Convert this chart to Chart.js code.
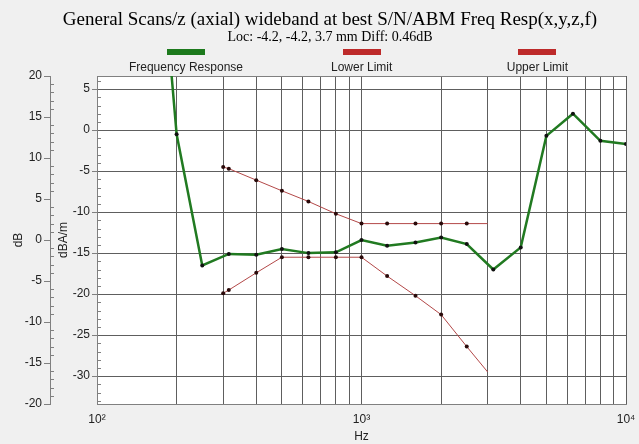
<!DOCTYPE html>
<html>
<head>
<meta charset="utf-8">
<title>Freq Resp</title>
<script src="https://cdn.jsdelivr.net/npm/chart.js@4.4.1/dist/chart.umd.min.js"></script>
<style>
  html, body { margin: 0; padding: 0; background: #f0f0f0; }
  canvas { display: block; }
</style>
</head>
<body>
<canvas id="freqChart" width="639" height="444"></canvas>
<script>
// measured response, 1/3-octave bands (Hz / dBA/m)
const respFreq  = [160, 200, 250, 315, 400, 500, 630, 800, 1000, 1250, 1600, 2000, 2500, 3150, 4000, 5000, 6300, 8000, 10000];
const respLevel = [36, -0.5, -16.5, -15.1, -15.2, -14.5, -15.0, -14.9, -13.4, -14.1, -13.7, -13.1, -13.9, -17.0, -14.3, -0.7, 2.0, -1.3, -1.7];

// limit mask (dBA/m)
const limitFreq  = [300, 315, 400, 500, 630, 800, 1000, 1250, 1600, 2000, 2500, 3000];
const lowerLevel = [-19.9, -19.5, -17.4, -15.5, -15.5, -15.5, -15.5, -17.8, -20.2, -22.5, -26.4, -29.5];
const upperLevel = [-4.5, -4.7, -6.1, -7.4, -8.7, -10.2, -11.4, -11.4, -11.4, -11.4, -11.4, -11.4];

// axes
const hzTicks  = [100, 200, 300, 400, 500, 600, 700, 800, 900, 1000, 2000, 3000, 4000, 5000, 6000, 7000, 8000, 9000, 10000];
const hzLabels = { 100: '10²', 1000: '10³', 10000: '10⁴' };
const dbaTicks = [5, 0, -5, -10, -15, -20, -25, -30];
const dbTicks  = [20, 15, 10, 5, 0, -5, -10, -15, -20];
const dbRange  = [-20, 20];
const dbaRange = [-33.4, 6.6];

const chartTitle = 'General Scans/z (axial) wideband at best S/N/ABM Freq Resp(x,y,z,f)';
const chartSubtitle = 'Loc: -4.2, -4.2, 3.7 mm Diff: 0.46dB';
const seriesNames = ['Frequency Response', 'Lower Limit', 'Upper Limit'];
const legendColors = ['#1d7a1d', '#bd2a2a', '#bd2a2a'];

Chart.defaults.font.family = '"Liberation Sans", Arial, sans-serif';
Chart.defaults.font.size = 12;
Chart.defaults.color = '#222';

const SERIF = '"Liberation Serif", "Times New Roman", serif';
const toXY = (xs, ys) => xs.map((x, i) => ({ x: x, y: ys[i] }));
const limitRadius = ctx => ctx.dataIndex === limitFreq.length - 1 ? 0 : 2;

// white plot area, frame, minor ticks, titles and the legend row
const framePlugin = {
  id: 'frame',
  beforeDraw(chart) {
    const { ctx, chartArea: a } = chart;
    ctx.save();
    ctx.fillStyle = '#f0f0f0';
    ctx.fillRect(0, 0, chart.width, chart.height);
    ctx.fillStyle = '#ffffff';
    ctx.fillRect(a.left, a.top, a.right - a.left, a.bottom - a.top);
    ctx.restore();
  },
  beforeDatasetsDraw(chart) {
    const { ctx, chartArea: a, scales } = chart;
    ctx.save();
    ctx.strokeStyle = '#808080';
    ctx.lineWidth = 1;
    ctx.beginPath();
    ctx.moveTo(a.left, Math.round(a.top) + 0.5);
    ctx.lineTo(a.right, Math.round(a.top) + 0.5);
    const minor = (scale, x0) => {
      for (let v = Math.ceil(scale.min); v <= Math.floor(scale.max); v++) {
        if (v % 5 === 0) continue;
        const y = Math.round(scale.getPixelForValue(v)) + 0.5;
        ctx.moveTo(x0, y);
        ctx.lineTo(x0 + 4, y);
      }
    };
    minor(scales.y2, Math.round(scales.y2.right));
    minor(scales.y, Math.round(a.left));
    ctx.stroke();
    ctx.restore();
  },
  afterDraw(chart) {
    const { ctx } = chart;
    ctx.save();
    ctx.textAlign = 'center';
    ctx.textBaseline = 'alphabetic';
    ctx.fillStyle = '#000';
    ctx.font = '19px ' + SERIF;
    ctx.fillText(chartTitle, 330, 25);
    ctx.font = '14px ' + SERIF;
    ctx.fillText(chartSubtitle, 330, 41);

    const centers = [0.291, 0.566, 0.841];
    ctx.font = '12px "Liberation Sans", Arial, sans-serif';
    centers.forEach((c, i) => {
      const x = chart.width * c;
      ctx.fillStyle = legendColors[i];
      ctx.fillRect(Math.round(x - 19), 49, 38, 6);
      ctx.fillStyle = '#222';
      ctx.fillText(seriesNames[i], x, 71);
    });
    ctx.restore();
  }
};

new Chart(document.getElementById('freqChart'), {
  type: 'line',
  data: {
    datasets: [{
      label: seriesNames[0],
      data: toXY(respFreq, respLevel),
      borderColor: '#217a21',
      borderWidth: 2.5,
      pointRadius: 2,
      pointBackgroundColor: '#111',
      pointBorderWidth: 0,
      tension: 0
    }, {
      label: seriesNames[1],
      data: toXY(limitFreq, lowerLevel),
      borderColor: '#b34848',
      borderWidth: 1,
      pointRadius: limitRadius,
      pointBackgroundColor: '#2a0a0a',
      pointBorderWidth: 0,
      tension: 0
    }, {
      label: seriesNames[2],
      data: toXY(limitFreq, upperLevel),
      borderColor: '#b34848',
      borderWidth: 1,
      pointRadius: limitRadius,
      pointBackgroundColor: '#2a0a0a',
      pointBorderWidth: 0,
      tension: 0
    }]
  },
  options: {
    responsive: false,
    animation: false,
    layout: { padding: { top: 76 } },
    plugins: {
      legend: { display: false },
      tooltip: { enabled: false }
    },
    scales: {
      x: {
        type: 'logarithmic',
        min: 100,
        max: 10000,
        afterBuildTicks: s => { s.ticks = hzTicks.map(v => ({ value: v })); },
        afterFit: s => { s.height = 40; s.paddingRight = 13; },
        ticks: { autoSkip: false, maxRotation: 0, padding: 8, callback: v => hzLabels[v] || '' },
        grid: { color: '#5e5e5e', drawTicks: false },
        border: { color: '#808080' },
        title: { display: true, text: 'Hz', padding: 0 }
      },
      y: {
        type: 'linear',
        position: 'left',
        weight: 0,
        min: dbaRange[0],
        max: dbaRange[1],
        afterBuildTicks: s => { s.ticks = dbaTicks.map(v => ({ value: v })); },
        afterFit: s => { s.width = 47; },
        ticks: { padding: 2 },
        grid: { color: '#5e5e5e', tickColor: '#808080', tickLength: 5 },
        border: { color: '#808080' },
        title: { display: true, text: 'dBA/m', padding: { top: 6, bottom: 0 } }
      },
      y2: {
        type: 'linear',
        position: 'left',
        weight: 1,
        min: dbRange[0],
        max: dbRange[1],
        afterBuildTicks: s => { s.ticks = dbTicks.map(v => ({ value: v })); },
        afterFit: s => { s.width = 50; },
        ticks: { padding: 2 },
        grid: { drawOnChartArea: false, tickColor: '#808080', tickLength: 6 },
        border: { color: '#808080' },
        title: { display: true, text: 'dB', padding: { top: 11, bottom: 0 } }
      }
    }
  },
  plugins: [framePlugin]
});
</script>
</body>
</html>
